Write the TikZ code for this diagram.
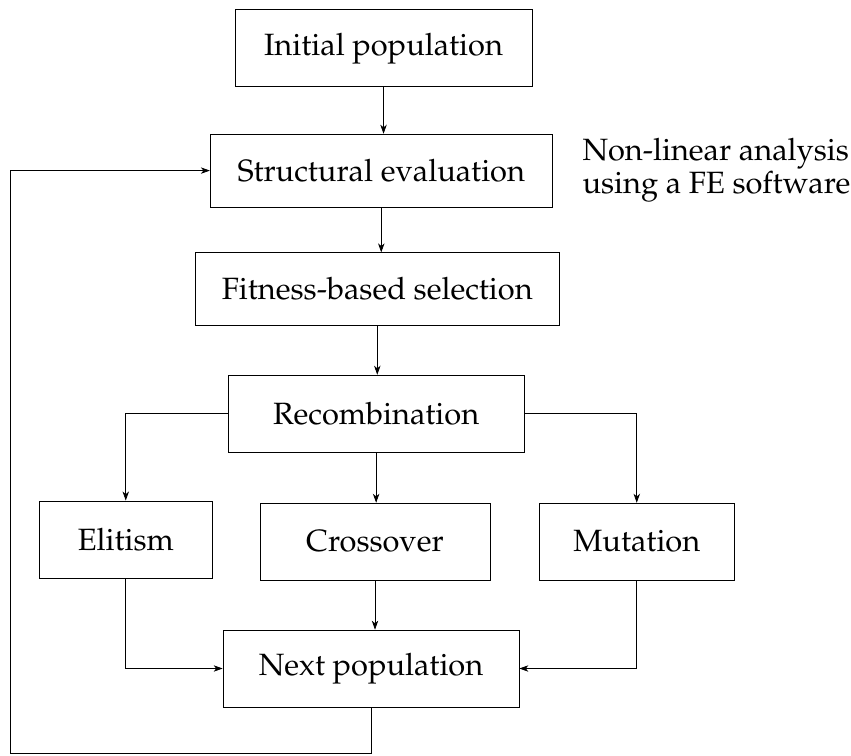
\documentclass[tikz,border=0pt]{standalone}
\IfFileExists{mathpazo.sty}{\usepackage[T1]{fontenc}\usepackage{mathpazo}}{\usepackage{fontspec}\setmainfont{Liberation Serif}}
\usepackage{tikz}
\usetikzlibrary{arrows.meta}
\tikzset{
  block/.style = {draw, rectangle, inner sep = 0, minimum height = 1.35cm, font = \fontsize{15.4}{18}\selectfont},
  flow/.style = {-{Stealth[length = 4.5pt, width = 3.2pt, inset = 1.3pt]}}
}

\begin{document}
\begin{tikzpicture}
     \useasboundingbox (0, 0) rectangle (14.955, 13.268);

     \node [block, minimum width = 5.22cm] (init) at (6.74, 12.42) {Initial population};
     \node [block, minimum width = 6.01cm, minimum height = 1.28cm] (struct) at (6.70, 10.27) {Structural evaluation};
     \node [block, minimum width = 6.40cm, minimum height = 1.27cm] (fitness) at (6.63, 8.19) {Fitness-based selection};
     \node [block, minimum width = 5.20cm] (recomb) at (6.61, 6.00) {Recombination};
     \node [block, minimum width = 3.04cm, minimum height = 1.37cm] (elitism) at (2.21, 3.78) {Elitism};
     \node [block, minimum width = 4.04cm] (crossover) at (6.59, 3.75) {Crossover};
     \node [block, minimum width = 3.43cm] (mutation) at (11.19, 3.75) {Mutation};
     \node [block, minimum width = 5.20cm] (next) at (6.52, 1.52) {Next population};

     \node [anchor = west, inner sep = 0, align = left, font = \fontsize{15.4}{13.6}\selectfont] (note) at (10.23, 10.27) {Non-linear analysis\\using a FE software};

     \coordinate (loop) at (0.19, 0.035);

     \draw [flow] (init) -- (init |- struct.north);
     \draw [flow] (struct) -- (struct |- fitness.north);
     \draw [flow] (fitness) -- (fitness |- recomb.north);
     \draw [flow] (recomb) -- (recomb |- crossover.north);
     \draw [flow] (recomb.west) -| (elitism.north);
     \draw [flow] (recomb.east) -| (mutation.north);
     \draw [flow] (crossover) -- (crossover |- next.north);
     \draw [flow] (elitism.south) |- (next.west);
     \draw [flow] (mutation.south) |- (next.east);
     \draw [flow] (next.south) |- (loop) |- (struct.west);
    \end{tikzpicture}
\end{document}
